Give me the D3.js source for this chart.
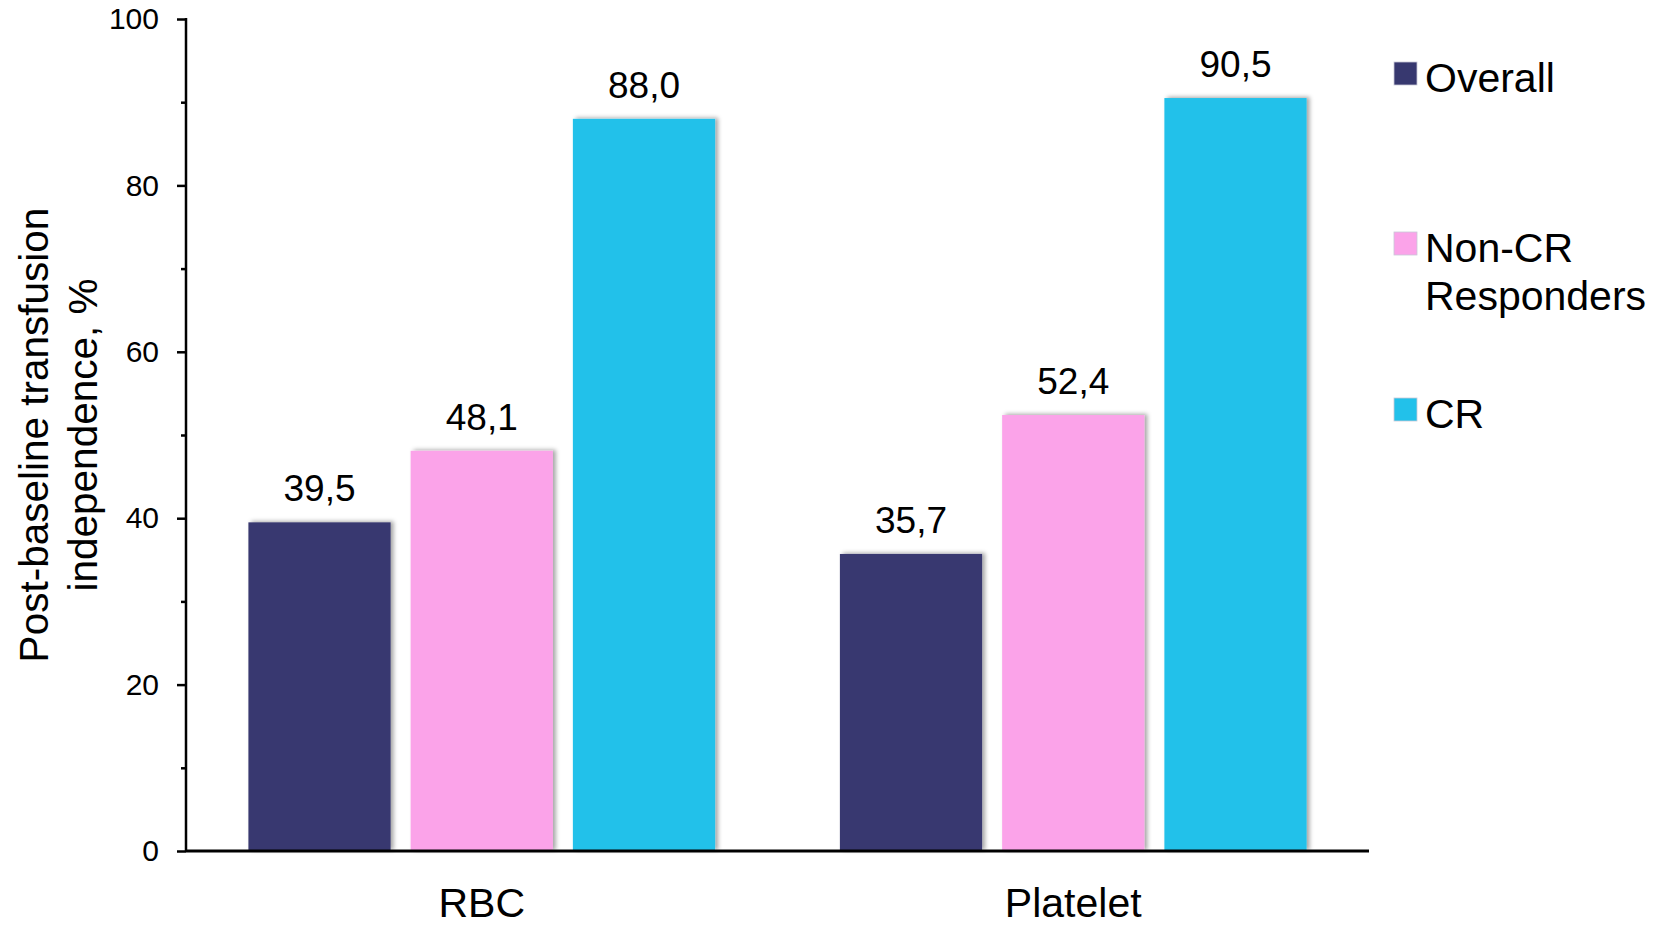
<!DOCTYPE html>
<html>
<head>
<meta charset="utf-8">
<script src="https://cdn.jsdelivr.net/npm/d3@7"></script>
<style>
  html, body { margin: 0; padding: 0; background: #fff; }
  svg { display: block; font-family: "Liberation Sans", Arial, sans-serif; }
</style>
</head>
<body>
<svg id="chart" width="1667" height="926"></svg>
<script>
// Transfusion independence by response group
const categories = ["RBC", "Platelet"];
const seriesNames = ["Overall", "Non-CR Responders", "CR"];
const legendLines = [["Overall"], ["Non-CR", "Responders"], ["CR"]];
const overallValues = [39.5, 35.7];
const nonCRValues = [48.1, 52.4];
const crValues = [88.0, 90.5];
const seriesColors = ["#37386F", "#FBA3E9", "#22C1EA"];
const yTicks = [0, 20, 40, 60, 80, 100];
const yMinorTicks = [10, 30, 50, 70, 90];
const yTitleLines = ["Post-baseline transfusion", "independence, %"];

const seriesValues = [overallValues, nonCRValues, crValues];
const rows = categories.map((c, i) => ({
  category: c,
  values: seriesNames.map((s, j) => ({ series: s, idx: j, value: seriesValues[j][i] }))
}));

const svg = d3.select("#chart");
const plotLeft = 186, plotRight = 1369, plotTop = 19, plotBottom = 851;

const defs = svg.append("defs");
const shadow = defs.append("filter").attr("id", "barShadow")
  .attr("x", "-10%").attr("y", "-10%").attr("width", "130%").attr("height", "120%");
shadow.append("feDropShadow")
  .attr("dx", 3).attr("dy", -1).attr("stdDeviation", 2)
  .attr("flood-color", "#000").attr("flood-opacity", 0.35);

const x0 = d3.scaleBand().domain(categories).range([plotLeft, plotRight])
  .paddingInner(0.211).paddingOuter(0.1055);
const x1 = d3.scaleBand().domain(seriesNames).range([0, x0.bandwidth()])
  .paddingInner(0.1235).paddingOuter(0);
const y = d3.scaleLinear().domain([0, 100]).range([plotBottom, plotTop]);

// bars
const groups = svg.append("g").selectAll("g").data(rows).join("g")
  .attr("transform", d => `translate(${x0(d.category)},0)`);

groups.selectAll("rect").data(d => d.values).join("rect")
  .attr("x", d => x1(d.series))
  .attr("y", d => y(d.value))
  .attr("width", x1.bandwidth())
  .attr("height", d => y(0) - y(d.value))
  .attr("fill", d => seriesColors[d.idx])
  .attr("filter", "url(#barShadow)");

groups.selectAll("text").data(d => d.values).join("text")
  .attr("x", d => x1(d.series) + x1.bandwidth() / 2)
  .attr("y", d => y(d.value) - 21)
  .attr("text-anchor", "middle")
  .attr("font-size", 37)
  .attr("fill", "#000")
  .text(d => d.value.toFixed(1).replace(".", ","));

// y axis
const yAxis = svg.append("g").attr("transform", `translate(${plotLeft},0)`)
  .call(d3.axisLeft(y).tickValues(yTicks).tickSize(9).tickPadding(18).tickFormat(d3.format("d")));
yAxis.select(".domain").attr("stroke", "#000").attr("stroke-width", 2.5)
  .attr("d", `M0,${plotTop - 1}V${plotBottom}`);
yAxis.selectAll(".tick line").attr("stroke", "#000").attr("stroke-width", 2.5);
yAxis.selectAll(".tick text").attr("font-size", 30).attr("fill", "#000")
  .attr("font-family", "Liberation Sans, Arial, sans-serif");

const yMinor = svg.append("g").attr("transform", `translate(${plotLeft},0)`)
  .call(d3.axisLeft(y).tickValues(yMinorTicks).tickSize(5).tickFormat(""));
yMinor.select(".domain").remove();
yMinor.selectAll(".tick line").attr("stroke", "#000").attr("stroke-width", 2.5);

// x axis baseline
svg.append("line")
  .attr("x1", plotLeft).attr("x2", plotRight)
  .attr("y1", y(0)).attr("y2", y(0))
  .attr("stroke", "#000").attr("stroke-width", 3);

// category labels
svg.append("g").selectAll("text").data(categories).join("text")
  .attr("x", d => x0(d) + x0.bandwidth() / 2)
  .attr("y", plotBottom + 66)
  .attr("text-anchor", "middle")
  .attr("font-size", 41)
  .attr("fill", "#000")
  .text(d => d);

// y axis title
const yTitle = svg.append("text")
  .attr("transform", `translate(0,${(plotTop + plotBottom) / 2}) rotate(-90)`)
  .attr("text-anchor", "middle")
  .attr("font-size", 40.5)
  .attr("fill", "#000");
yTitle.selectAll("tspan").data(yTitleLines).join("tspan")
  .attr("x", 0)
  .attr("y", (d, i) => 48 + i * 49)
  .text(d => d);

// legend
const legendBaselines = [92, 262, 428];
const legend = svg.append("g").selectAll("g").data(seriesNames).join("g")
  .attr("transform", (d, i) => `translate(1394,${legendBaselines[i]})`);
legend.append("rect")
  .attr("x", 0).attr("y", -30)
  .attr("width", 23).attr("height", 23)
  .attr("fill", (d, i) => seriesColors[i])
  .attr("stroke", "#c8c8d8").attr("stroke-width", 0.8);
legend.append("text")
  .attr("font-size", 41)
  .attr("fill", "#000")
  .selectAll("tspan").data((d, i) => legendLines[i]).join("tspan")
  .attr("x", 31)
  .attr("y", (d, i) => i * 48)
  .text(d => d);
</script>
</body>
</html>
